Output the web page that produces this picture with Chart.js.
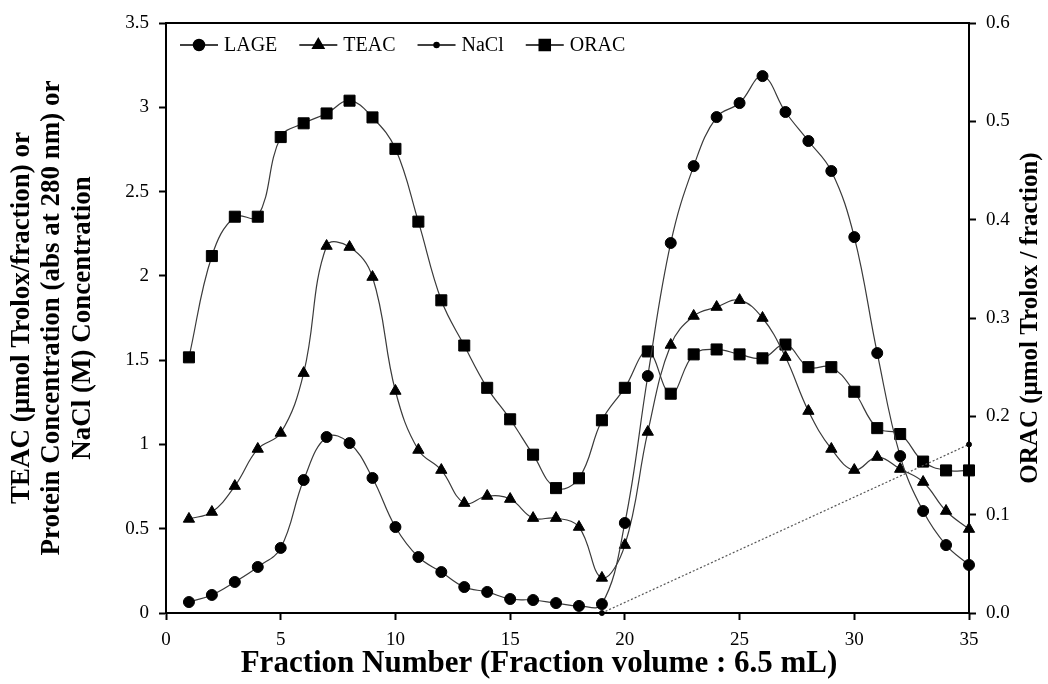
<!DOCTYPE html>
<html>
<head>
<meta charset="utf-8">
<script src="https://cdn.jsdelivr.net/npm/chart.js@4.4.0/dist/chart.umd.min.js"></script>
<style>
  html, body { margin: 0; padding: 0; background: #fff; }
  #wrap { width: 1048px; height: 684px; }
</style>
</head>
<body>
<div id="wrap"><canvas id="fractionChart" width="1048" height="684"></canvas></div>
<script>
// Fraction numbers (x axis)
const fractions = [1, 2, 3, 4, 5, 6, 7, 8, 9, 10, 11, 12, 13, 14, 15, 16, 17, 18,
  19, 20, 21, 22, 23, 24, 25, 26, 27, 28, 29, 30, 31, 32, 33, 34, 35];

// Protein (abs at 280 nm) - left axis
const lage = [0.065, 0.107, 0.184, 0.273, 0.386, 0.789, 1.044, 1.008, 0.801, 0.510,
  0.332, 0.243, 0.154, 0.125, 0.083, 0.077, 0.059, 0.042, 0.053, 0.534,
  1.406, 2.195, 2.651, 2.942, 3.025, 3.185, 2.972, 2.800, 2.622, 2.230,
  1.542, 0.931, 0.605, 0.403, 0.285];

// TEAC (umol Trolox/fraction) - left axis
const teac = [0.558, 0.599, 0.753, 0.973, 1.068, 1.423, 2.177, 2.171, 1.993, 1.317,
  0.967, 0.848, 0.652, 0.694, 0.676, 0.563, 0.563, 0.510, 0.208, 0.403,
  1.074, 1.590, 1.762, 1.815, 1.856, 1.750, 1.518, 1.198, 0.973, 0.848,
  0.925, 0.854, 0.777, 0.605, 0.498];

// ORAC (umol Trolox / fraction) - right axis
const orac = [0.260, 0.363, 0.403, 0.403, 0.484, 0.498, 0.508, 0.521, 0.504, 0.472,
  0.398, 0.318, 0.272, 0.229, 0.197, 0.161, 0.127, 0.137, 0.196, 0.229,
  0.266, 0.223, 0.263, 0.268, 0.263, 0.259, 0.273, 0.250, 0.250, 0.225,
  0.188, 0.182, 0.154, 0.145, 0.145];

// NaCl gradient (M) - left axis
const naclFractions = [19, 35];
const naclValues = [0, 1.0];

const toPoints = (xs, ys) => xs.map((x, i) => ({ x: x, y: ys[i] }));

const SERIF = '"Liberation Serif", "Times New Roman", serif';
const LINE_GREY = '#3a3a3a';

// top frame edge, x/right titles and the in-plot legend
const framePlugin = {
  id: 'framePlugin',
  afterDraw(chart) {
    const { ctx, chartArea } = chart;
    ctx.save();
    ctx.strokeStyle = '#000';
    ctx.lineWidth = 2;
    ctx.beginPath();
    ctx.moveTo(chartArea.left - 1, chartArea.top);
    ctx.lineTo(chartArea.right + 1, chartArea.top);
    ctx.stroke();

    ctx.fillStyle = '#000';
    ctx.textAlign = 'center';
    ctx.textBaseline = 'middle';

    // x axis title
    ctx.font = 'bold 31px ' + SERIF;
    ctx.fillText('Fraction Number (Fraction volume : 6.5 mL)', 539, 664);

    // right axis title, reads bottom to top
    ctx.font = 'bold 25px ' + SERIF;
    ctx.translate(1031, (chartArea.top + chartArea.bottom) / 2);
    ctx.rotate(-Math.PI / 2);
    ctx.fillText('ORAC (\u03bcmol Trolox / fraction)', 0, 0);
    ctx.restore();

    // legend
    ctx.save();
    ctx.font = '20px ' + SERIF;
    ctx.textBaseline = 'middle';
    ctx.textAlign = 'left';
    let x = chartArea.left + 14;
    const y = chartArea.top + 22;
    chart.data.datasets.forEach(ds => {
      ctx.strokeStyle = '#000';
      ctx.lineWidth = 1.5;
      ctx.beginPath();
      ctx.moveTo(x, y);
      ctx.lineTo(x + 38, y);
      ctx.stroke();
      Chart.helpers.drawPoint(ctx, {
        pointStyle: ds.pointStyle,
        radius: ds.pointRadius,
        borderWidth: 1,
        rotation: 0
      }, x + 19, y);
      ctx.fillStyle = '#000';
      ctx.fill();
      ctx.fillText(ds.label, x + 44, y + 1);
      x += 44 + ctx.measureText(ds.label).width + 22;
    });
    ctx.restore();
  }
};

const lineDefaults = {
  borderColor: LINE_GREY,
  borderWidth: 1.2,
  pointBackgroundColor: '#000',
  pointBorderColor: '#000',
  pointBorderWidth: 1,
  tension: 0.4,
  clip: false,
  fill: false
};

new Chart(document.getElementById('fractionChart'), {
  type: 'line',
  data: {
    datasets: [
      Object.assign({}, lineDefaults, {
        label: 'LAGE',
        data: toPoints(fractions, lage),
        pointStyle: 'circle',
        pointRadius: 5.5,
        yAxisID: 'y'
      }),
      Object.assign({}, lineDefaults, {
        label: 'TEAC',
        data: toPoints(fractions, teac),
        pointStyle: 'triangle',
        pointRadius: 6.5,
        yAxisID: 'y'
      }),
      Object.assign({}, lineDefaults, {
        label: 'NaCl',
        data: toPoints(naclFractions, naclValues),
        pointStyle: 'circle',
        pointRadius: 2.5,
        borderColor: '#555',
        borderWidth: 1.2,
        borderDash: [2, 2],
        tension: 0,
        yAxisID: 'y'
      }),
      Object.assign({}, lineDefaults, {
        label: 'ORAC',
        data: toPoints(fractions, orac),
        pointStyle: 'rect',
        pointRadius: 7.8,
        yAxisID: 'y1'
      })
    ]
  },
  options: {
    responsive: false,
    animation: false,
    layout: { padding: { top: 23, left: 0, right: 0, bottom: 0 } },
    plugins: {
      legend: { display: false },
      tooltip: { enabled: false }
    },
    scales: {
      x: {
        type: 'linear',
        min: 0,
        max: 35,
        afterFit(scale) { scale.height = 71; },
        ticks: {
          stepSize: 5,
          color: '#000',
          padding: 9,
          maxRotation: 0,
          font: { family: SERIF, size: 19 }
        },
        grid: { drawOnChartArea: false, drawTicks: true, tickLength: 7, tickWidth: 2, tickColor: '#000' },
        border: { display: true, color: '#000', width: 2 },
        title: { display: false }
      },
      y: {
        type: 'linear',
        position: 'left',
        min: 0,
        max: 3.5,
        afterFit(scale) { scale.width = 166; },
        ticks: {
          stepSize: 0.5,
          color: '#000',
          padding: 10,
          font: { family: SERIF, size: 19 },
          callback: v => String(v)
        },
        grid: { drawOnChartArea: false, drawTicks: true, tickLength: 7, tickWidth: 2, tickColor: '#000' },
        border: { display: true, color: '#000', width: 2 },
        title: {
          display: true,
          text: ['TEAC (\u03bcmol Trolox/fraction) or',
                 'Protein Concentration (abs at 280 nm) or',
                 'NaCl (M) Concentration'],
          color: '#000',
          padding: { top: 7, bottom: 0 },
          font: { family: SERIF, size: 27, weight: 'bold', lineHeight: 1.12 }
        }
      },
      y1: {
        type: 'linear',
        position: 'right',
        min: 0,
        max: 0.6,
        afterFit(scale) { scale.width = 79; },
        ticks: {
          stepSize: 0.1,
          color: '#000',
          padding: 10,
          font: { family: SERIF, size: 19 },
          callback: v => v.toFixed(1)
        },
        grid: { drawOnChartArea: false, drawTicks: true, tickLength: 7, tickWidth: 2, tickColor: '#000' },
        border: { display: true, color: '#000', width: 2 }
      }
    }
  },
  plugins: [framePlugin]
});
</script>
</body>
</html>
